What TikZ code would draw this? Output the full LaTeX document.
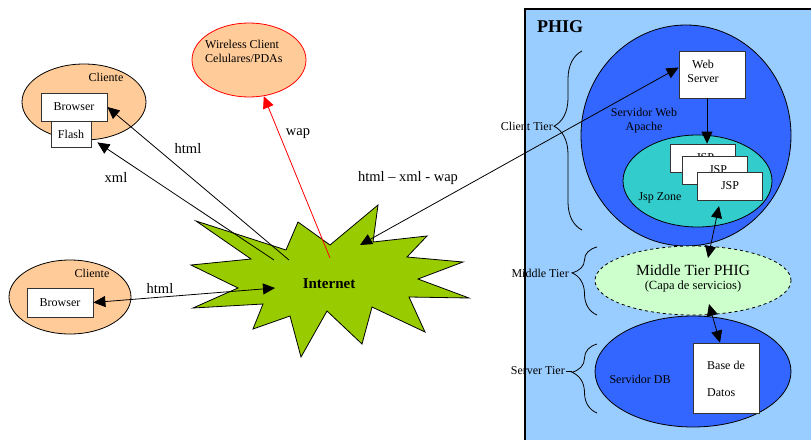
\documentclass[tikz,border=0pt]{standalone}
\usepackage{fontspec}
\setmainfont{Liberation Serif}
\usetikzlibrary{shapes.geometric,arrows.meta,decorations.pathreplacing}
\definecolor{peach}{HTML}{FFCC99}
\definecolor{panelblue}{HTML}{99CCFF}
\definecolor{deepblue}{HTML}{3366FF}
\definecolor{jspteal}{HTML}{33CCCC}
\definecolor{midgreen}{HTML}{CCFFCC}
\definecolor{stargreen}{HTML}{99CC00}
\begin{document}
\begin{tikzpicture}[x=1pt,y=-1pt,
  every node/.style={inner sep=0pt},
  lbl/.style={font=\fontsize{14.5}{16}\selectfont},
  small/.style={font=\fontsize{12}{14}\selectfont},
  wbox/.style={draw=black!80, fill=white, line width=0.8pt, minimum width=66pt, minimum height=28pt, small},
  oval/.style={ellipse, draw=black, line width=0.8pt},
  arr/.style={line width=0.8pt, -{Triangle[length=12pt,width=11pt]}},
  darr/.style={line width=0.8pt, {Triangle[length=12pt,width=11pt]}-{Triangle[length=12pt,width=11pt]}},
  tierbrace/.style={decorate, decoration={brace, amplitude=#1}, line width=0.8pt}
]
\useasboundingbox (0,0) rectangle (811,439);

% ---- PHIG panel ----
\draw[fill=panelblue, line width=1.2pt] (525,9) rectangle (830,460);
\node[font=\fontsize{18}{20}\selectfont\bfseries, anchor=west] (phig) at (537,27) {PHIG};

% web server circle
\node[oval, fill=deepblue, minimum width=210pt, minimum height=221pt] (websrv) at (686,135.5) {};
\node[small, align=center] (apache) at (644,121) {Servidor Web\\Apache};
\node[wbox, minimum height=47pt] (webserver) at (712,74.5) {};
\node[small, align=center] at (703,71) {Web\\Server};

% jsp zone
\node[oval, fill=jspteal, minimum width=149pt, minimum height=92pt] (jspzone) at (697.5,181) {};
\node[small] (jspzonelbl) at (660,198) {Jsp Zone};
\node[wbox, minimum width=65pt] (jsp1) at (702.5,158) {};
\node[small] at (705,158) {JSP};
\node[wbox, minimum width=65pt] (jsp2) at (715,170) {};
\node[small] at (718,170) {JSP};
\node[wbox, minimum width=65pt] (jsp3) at (730,186) {JSP};

% middle tier
\node[oval, dashed, fill=midgreen, minimum width=196pt, minimum height=69pt] (middle) at (693,280.5) {};
\node[font=\fontsize{15.5}{17}\selectfont] (midlbl) at (693,270) {Middle Tier PHIG};
\node[font=\fontsize{12.5}{14}\selectfont] (midsub) at (693,286) {(Capa de servicios)};

% server tier
\node[oval, fill=deepblue, minimum width=196pt, minimum height=111pt] (dbsrv) at (693,371.5) {};
\node[small] (dblbl) at (640,379) {Servidor DB};
\node[wbox, minimum height=70pt] (dbbox) at (726,378) {};
\node[small, anchor=west] (dbt1) at (707,365) {Base de};
\node[small, anchor=west] (dbt2) at (707,393) {Datos};

% tier braces
\draw[tierbrace=28pt, decoration={aspect=0.58}] (582,230) -- (582,51);
\node[small, anchor=east] (clienttier) at (553,126) {Client Tier};
\draw[tierbrace=25pt, decoration={aspect=0.62}] (597,315) -- (597,247);
\node[small, anchor=east] (middletier) at (569,273) {Middle Tier};
\draw[tierbrace=25pt, decoration={aspect=0.59}] (597,413) -- (597,344);
\node[small, anchor=east] (servertier) at (565,371) {Server Tier};
\draw[line width=0.8pt] (servertier.east) ++(1,0) -- ++(6,0);

% ---- clients ----
\node[oval, fill=peach, minimum width=124pt, minimum height=76pt] (cli1) at (84,102) {};
\node[small] (cli1lbl) at (106,77) {Cliente};
\node[wbox] (browser1) at (74,107) {Browser};
\node[wbox, minimum width=40pt, minimum height=26pt] (flash) at (71,134) {Flash};

\node[oval, fill=peach, minimum width=122pt, minimum height=74pt] (cli2) at (70,297) {};
\node[small] (cli2lbl) at (92,273) {Cliente};
\node[wbox, minimum height=29pt] (browser2) at (60,302.5) {Browser};

\node[oval, draw=red, fill=peach, minimum width=114pt, minimum height=74pt] (wireless) at (249,60) {};
\node[small, anchor=west, align=left] (wltext) at (205,51) {Wireless Client\\Celulares/PDAs};

% ---- internet cloud ----
\draw[fill=stargreen, line width=0.8pt, line join=miter]
  (196,221) -- (286,250) -- (298,222) -- (330,245) -- (378,205) -- (373,242)
  -- (427,236) -- (407,257) -- (463,262) -- (418,279) -- (469,298) -- (409,297)
  -- (425,332) -- (372,307) -- (362,344) -- (327,311) -- (301,357) -- (290,316)
  -- (253,329) -- (263,304) -- (193,308) -- (238,288) -- (191,265) -- (251,259) -- cycle;
\node[font=\fontsize{15}{17}\selectfont\bfseries] (internet) at (329,284) {Internet};

% connector ends inside the cloud
\coordinate (inetHtml) at (289,260);
\coordinate (inetXml) at (274,260);
\coordinate (inetWap) at (330,258);
\coordinate (inetWeb) at (360,245);
\coordinate (inetLow) at (275,288);
\coordinate (jspPort) at (719,206);
\coordinate (midTop) at (708,258);
\coordinate (midBot) at (709,304);

% ---- connectors ----
\draw[arr] (inetHtml) -- (browser1.east);
\draw[arr] (inetXml) -- ([shift={(6pt,5pt)}]flash.south east);
\draw[arr, red] (inetWap) -- (wireless);
\draw[darr] (inetWeb) -- ([yshift=7pt]webserver.west);
\draw[darr] (browser2.east) -- (inetLow);
\draw[arr] ([xshift=-5pt]webserver.south) -- ([xshift=-5pt]webserver.south |- jsp1.north);
\draw[darr] (jspPort) -- (midTop);
\draw[darr] (midBot) -- ([xshift=-6pt]dbbox.north);

% connector labels
\node[lbl] (lhtml1) at (188,149) {html};
\node[lbl] (lxml) at (116,177) {xml};
\node[lbl] (lwap) at (298,134) {wap};
\node[lbl] (lmix) at (408,178) {html -- xml - wap};
\node[lbl] (lhtml2) at (160,289) {html};
\end{tikzpicture}
\end{document}
